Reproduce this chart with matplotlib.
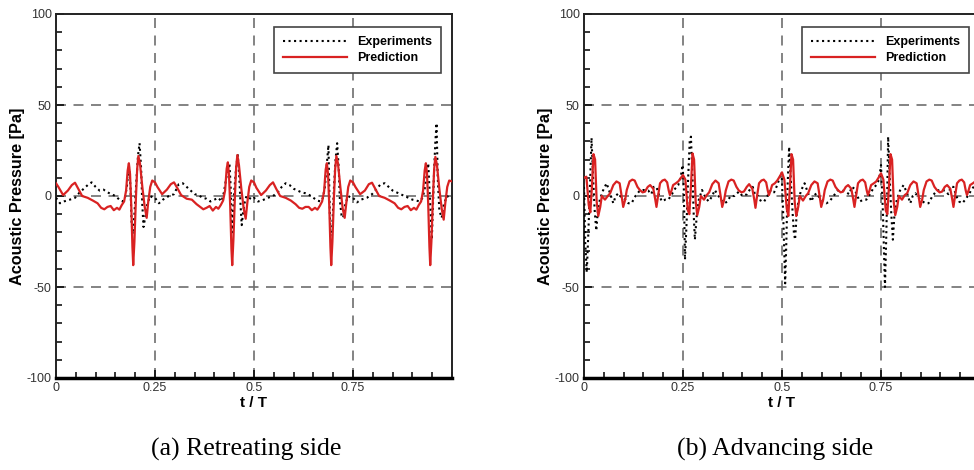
import matplotlib
matplotlib.use("Agg")
import matplotlib.pyplot as plt
from matplotlib.ticker import MultipleLocator, FixedLocator

plt.rcParams["axes.unicode_minus"] = False

RED = "#d92222"
GRIDC = "#6e6e6e"
SANS = ["Liberation Sans", "DejaVu Sans"]
SERIF = ["Liberation Serif", "DejaVu Serif"]

# ---- (a) Retreating side ----
ret_pred_t = [
    0.000, 0.006, 0.018, 0.030, 0.040, 0.048, 0.056, 0.066, 0.080, 0.093, 0.105, 0.114, 0.122,
    0.130, 0.138, 0.146, 0.154, 0.160, 0.166, 0.172, 0.177, 0.181, 0.184, 0.187, 0.190, 0.193,
    0.195, 0.198, 0.202, 0.205, 0.208, 0.212, 0.218, 0.224, 0.229, 0.233, 0.238, 0.243,
    0.250, 0.256, 0.268, 0.280, 0.290, 0.298, 0.306, 0.316, 0.330, 0.343, 0.355, 0.364, 0.372,
    0.380, 0.388, 0.396, 0.404, 0.410, 0.416, 0.422, 0.427, 0.431, 0.434, 0.437, 0.440, 0.443,
    0.445, 0.448, 0.452, 0.455, 0.458, 0.462, 0.468, 0.474, 0.479, 0.483, 0.488, 0.493,
    0.500, 0.506, 0.518, 0.530, 0.540, 0.548, 0.556, 0.566, 0.580, 0.593, 0.605, 0.614, 0.622,
    0.630, 0.638, 0.646, 0.654, 0.660, 0.666, 0.672, 0.677, 0.681, 0.684, 0.687, 0.690, 0.693,
    0.695, 0.698, 0.702, 0.705, 0.708, 0.712, 0.718, 0.724, 0.729, 0.733, 0.738, 0.743,
    0.750, 0.756, 0.768, 0.780, 0.790, 0.798, 0.806, 0.816, 0.830, 0.843, 0.855, 0.864, 0.872,
    0.880, 0.888, 0.896, 0.904, 0.910, 0.916, 0.922, 0.927, 0.931, 0.934, 0.937, 0.940, 0.943,
    0.945, 0.948, 0.952, 0.955, 0.958, 0.962, 0.968, 0.974, 0.979, 0.983, 0.988, 0.993, 1.000]
ret_pred_p = [
    7.0, 5.0, 0.5, 3.0, 6.0, 7.3, 4.0, 0.0, -1.0, -2.5, -4.0, -6.5, -7.3,
    -6.0, -5.5, -7.8, -6.5, -7.5, -5.0, -3.0, 3.0, 14.0, 18.0, 12.0, -5.0, -28.0,
    -38.0, -25.0, 0.0, 15.0, 22.0, 18.0, 5.0, -6.0, -12.0, -3.0, 5.0, 8.5,
    7.5, 5.0, 1.0, 3.5, 6.5, 7.5, 4.5, 0.5, -1.5, -2.0, -4.5, -6.0, -7.3,
    -6.5, -5.5, -8.0, -6.0, -7.0, -5.0, -2.5, 3.0, 15.0, 18.5, 11.0, -6.0, -29.0,
    -38.0, -24.0, 1.0, 16.0, 22.5, 17.0, 4.0, -7.0, -12.5, -4.0, 5.0, 8.5,
    7.5, 4.5, 0.5, 3.0, 6.0, 7.5, 4.0, 0.0, -1.0, -2.5, -4.5, -6.5, -7.0,
    -6.0, -6.0, -7.8, -6.5, -7.5, -5.5, -3.0, 2.5, 14.5, 18.0, 12.0, -5.0, -28.0,
    -38.0, -25.0, 0.0, 15.0, 22.0, 18.0, 5.0, -7.0, -12.0, -4.0, 5.0, 8.5,
    7.5, 5.0, 1.0, 3.0, 6.5, 7.3, 4.0, 0.0, -1.0, -2.5, -4.0, -6.5, -7.3,
    -6.0, -5.5, -7.8, -6.5, -7.5, -5.0, -3.0, 3.0, 14.0, 18.0, 12.0, -5.0, -28.0,
    -38.0, -25.0, 0.0, 15.0, 21.5, 17.0, 4.0, -7.0, -13.0, -4.0, 5.0, 8.5, 8.0]

ret_exp_t = [
    0.000, 0.010, 0.020, 0.035, 0.048, 0.060, 0.070, 0.080, 0.090, 0.100, 0.110, 0.120, 0.130,
    0.140, 0.150, 0.160, 0.168, 0.174, 0.179, 0.184, 0.188, 0.191, 0.194, 0.198, 0.202, 0.207,
    0.211, 0.215, 0.218, 0.221, 0.225, 0.231, 0.238, 0.245,
    0.250, 0.260, 0.270, 0.285, 0.298, 0.310, 0.320, 0.330, 0.340, 0.350, 0.360, 0.370, 0.380,
    0.390, 0.400, 0.410, 0.418, 0.424, 0.430, 0.438, 0.441, 0.444, 0.447, 0.451, 0.455, 0.459,
    0.463, 0.466, 0.469, 0.472, 0.476, 0.481, 0.488, 0.495,
    0.500, 0.510, 0.520, 0.535, 0.548, 0.560, 0.570, 0.580, 0.590, 0.600, 0.610, 0.620, 0.630,
    0.640, 0.650, 0.660, 0.668, 0.674, 0.679, 0.688, 0.690, 0.693, 0.697, 0.702, 0.706, 0.710,
    0.714, 0.717, 0.721, 0.725, 0.731, 0.738, 0.745,
    0.750, 0.760, 0.770, 0.785, 0.798, 0.810, 0.820, 0.830, 0.840, 0.850, 0.860, 0.870, 0.880,
    0.890, 0.900, 0.910, 0.918, 0.926, 0.932, 0.940, 0.944, 0.949, 0.952, 0.955, 0.958, 0.961,
    0.964, 0.968, 0.974, 0.979, 0.987, 0.995, 1.000]
ret_exp_p = [
    -1.0, -4.0, -3.0, -2.0, -1.0, 2.0, 4.0, 6.0, 7.5, 5.0, 3.0, 3.5, 2.0,
    1.0, 0.0, -2.0, -3.0, -1.0, 5.0, 17.0, 5.0, -15.0, -21.0, -10.0, 5.0, 22.0,
    29.0, 15.0, -5.0, -17.0, -12.0, -4.0, 0.0, -1.0,
    -1.0, -4.0, -2.0, 0.0, 1.0, 6.5, 7.0, 5.0, 3.0, 1.0, 0.5, -1.0, -1.5,
    -3.0, -2.0, -1.0, -3.0, 2.0, 10.0, 18.0, 5.0, -20.0, -8.0, 5.0, 16.0, 22.5,
    10.0, -5.0, -16.0, -10.0, -4.0, 0.0, -1.0, -2.0,
    -1.0, -3.0, -2.5, -1.0, 0.0, 2.0, 5.0, 7.0, 6.0, 4.0, 3.0, 2.0, 1.5,
    0.5, -1.0, -2.5, -3.0, -1.0, 5.0, 28.0, 5.0, -22.0, -20.0, 5.0, 20.0, 29.0,
    15.0, -3.0, -10.5, -12.0, -4.0, 0.0, -1.0,
    -1.0, -3.5, -2.0, -1.0, 1.0, 4.0, 6.5, 7.0, 5.0, 3.0, 2.0, 1.0, 0.0,
    -1.0, -2.0, -2.5, -3.0, -1.0, 5.0, 18.0, 0.0, -24.0, -5.0, 15.0, 30.0, 40.0,
    10.0, -8.0, -12.0, -5.0, 0.0, -1.0, -1.0]

# ---- (b) Advancing side ----
adv_pred_t = [
    0.000, 0.006, 0.012, 0.016, 0.020, 0.024, 0.028, 0.032, 0.036, 0.041, 0.045, 0.053, 0.060,
    0.066, 0.074, 0.082, 0.090, 0.095, 0.099, 0.104, 0.108, 0.115, 0.122, 0.128, 0.135, 0.141,
    0.148, 0.154, 0.161, 0.167, 0.175, 0.180, 0.183, 0.187, 0.192, 0.198, 0.204, 0.210, 0.214,
    0.217, 0.221, 0.225, 0.232, 0.238, 0.245,
    0.250, 0.256, 0.262, 0.266, 0.270, 0.274, 0.278, 0.282, 0.286, 0.291, 0.295, 0.303, 0.310,
    0.316, 0.324, 0.332, 0.340, 0.345, 0.349, 0.354, 0.358, 0.365, 0.372, 0.378, 0.385, 0.391,
    0.398, 0.404, 0.411, 0.417, 0.425, 0.430, 0.433, 0.437, 0.442, 0.448, 0.454, 0.460, 0.464,
    0.467, 0.471, 0.475, 0.482, 0.488, 0.495,
    0.500, 0.506, 0.512, 0.516, 0.520, 0.524, 0.528, 0.532, 0.536, 0.541, 0.545, 0.553, 0.560,
    0.566, 0.574, 0.582, 0.590, 0.595, 0.599, 0.604, 0.608, 0.615, 0.622, 0.628, 0.635, 0.641,
    0.648, 0.654, 0.661, 0.667, 0.675, 0.680, 0.683, 0.687, 0.692, 0.698, 0.704, 0.710, 0.714,
    0.717, 0.721, 0.725, 0.732, 0.738, 0.745,
    0.750, 0.756, 0.762, 0.766, 0.770, 0.774, 0.778, 0.782, 0.786, 0.791, 0.795, 0.803, 0.810,
    0.816, 0.824, 0.832, 0.840, 0.845, 0.849, 0.854, 0.858, 0.865, 0.872, 0.878, 0.885, 0.891,
    0.898, 0.904, 0.911, 0.917, 0.925, 0.930, 0.933, 0.937, 0.942, 0.948, 0.954, 0.960, 0.964,
    0.967, 0.971, 0.975, 0.982, 0.988, 0.995, 1.000]
adv_pred_p = [
    10.0, 10.6, -5.0, -9.0, 5.0, 23.0, 20.0, -3.0, -11.0, -6.0, 0.0, -2.0, 0.0,
    1.5, 6.0, 8.0, 7.0, 0.0, -6.0, -2.0, 3.3, 8.0, 9.0, 8.5, 5.0, 3.3,
    2.0, 2.4, 5.0, 6.0, 4.0, -2.0, -6.0, 0.0, 7.0, 8.5, 9.0, 7.5, 3.0,
    0.5, 3.0, 6.0, 7.0, 8.0, 10.0,
    11.5, 9.0, -7.7, -10.0, 5.0, 23.4, 20.0, -3.0, -10.5, -6.0, 0.0, -2.0, 0.5,
    2.0, 6.5, 8.5, 7.0, 0.0, -6.0, -2.0, 3.0, 8.0, 9.0, 8.5, 5.0, 3.0,
    2.0, 2.5, 5.0, 6.5, 4.0, -2.0, -6.5, 0.0, 7.0, 8.5, 9.0, 7.5, 3.0,
    0.5, 3.0, 6.0, 7.0, 8.5, 11.0,
    13.0, 9.0, -7.0, -11.0, 5.0, 23.0, 20.0, -3.0, -11.0, -6.0, 0.0, -2.5, 0.0,
    1.5, 6.0, 8.0, 7.0, 0.0, -6.0, -2.0, 3.3, 8.0, 9.0, 8.5, 5.0, 3.3,
    2.0, 2.4, 5.0, 6.0, 4.0, -2.0, -6.0, 0.0, 7.0, 8.5, 9.0, 7.5, 3.0,
    0.5, 3.0, 6.0, 7.0, 8.0, 10.5,
    12.5, 9.0, -8.0, -10.0, 5.0, 23.0, 20.0, -3.0, -10.5, -6.0, 0.0, -2.0, 0.5,
    1.5, 6.0, 8.0, 7.0, 0.0, -6.0, -2.0, 3.3, 8.0, 9.0, 8.5, 5.0, 3.3,
    2.0, 2.4, 5.0, 6.0, 4.0, -2.0, -6.0, 0.0, 7.0, 8.5, 9.0, 7.5, 3.0,
    0.5, 3.0, 6.0, 7.0, 8.0, 10.0, 12.0]

adv_exp_t = [
    0.000, 0.003, 0.007, 0.011, 0.015, 0.019, 0.023, 0.027, 0.031, 0.035, 0.040, 0.048, 0.057,
    0.065, 0.074, 0.080, 0.087, 0.095, 0.105, 0.112, 0.120, 0.130, 0.141, 0.150, 0.162, 0.170,
    0.176, 0.183, 0.190, 0.197, 0.205, 0.213, 0.222, 0.230, 0.238, 0.244,
    0.249, 0.252, 0.255, 0.259, 0.263, 0.267, 0.270, 0.274, 0.277, 0.280, 0.285, 0.290, 0.298,
    0.307, 0.315, 0.324, 0.330, 0.337, 0.345, 0.355, 0.362, 0.370, 0.380, 0.391, 0.400, 0.412,
    0.420, 0.426, 0.433, 0.440, 0.447, 0.455, 0.463, 0.472, 0.480, 0.488, 0.494,
    0.499, 0.503, 0.508, 0.511, 0.514, 0.518, 0.522, 0.527, 0.530, 0.533, 0.537, 0.542, 0.548,
    0.557, 0.565, 0.574, 0.580, 0.587, 0.595, 0.605, 0.612, 0.620, 0.630, 0.641, 0.650, 0.662,
    0.670, 0.676, 0.683, 0.690, 0.697, 0.705, 0.713, 0.722, 0.730, 0.738, 0.745,
    0.750, 0.755, 0.760, 0.763, 0.766, 0.768, 0.772, 0.776, 0.780, 0.784, 0.790, 0.798, 0.807,
    0.815, 0.824, 0.830, 0.837, 0.845, 0.855, 0.862, 0.870, 0.880, 0.891, 0.900, 0.912, 0.920,
    0.926, 0.933, 0.940, 0.947, 0.955, 0.963, 0.972, 0.980, 0.988, 0.994, 1.000]
adv_exp_p = [
    5.0, -25.0, -42.0, -20.0, 5.0, 32.0, 10.0, -8.0, -19.0, -8.0, -2.0, 3.0, 7.0,
    2.0, -4.0, 0.0, 1.5, -1.0, -2.0, -4.0, -4.0, 0.0, 3.0, 3.3, 3.0, 1.0,
    5.0, 5.0, 0.0, -3.0, -2.0, -2.0, 1.0, 4.0, 6.0, 10.0,
    17.0, 5.0, -35.0, -15.0, 10.0, 30.0, 32.6, 10.0, -10.0, -24.0, -10.0, -2.0, 3.3,
    -1.0, -3.0, 0.0, 3.3, 1.0, -2.0, -4.0, -3.0, 0.0, 0.0, 2.4, 0.0, 1.0,
    4.0, 5.0, 0.0, 0.0, -3.0, -3.0, 0.0, 3.3, 2.0, 6.0, 10.0,
    13.0, -10.0, -48.0, -25.0, 5.0, 27.0, 10.0, -10.0, -20.0, -24.0, -10.0, -2.0, 3.0,
    7.0, 2.0, -3.0, 0.0, 1.5, -1.0, -3.0, -4.0, -3.0, 0.0, 3.0, 3.3, 2.0,
    1.0, 5.0, 4.0, 0.0, -3.0, -2.0, -2.0, 1.0, 4.0, 6.0, 9.0,
    17.0, -10.0, -50.0, -25.0, 5.0, 32.6, 10.0, -10.0, -24.0, -10.0, -2.0, 3.0, 6.0,
    2.0, -4.0, 0.0, 1.5, -1.0, -3.0, -4.0, -4.0, 0.0, 3.0, 3.3, 3.0, 1.0,
    5.0, 5.0, 0.0, -3.0, -4.0, -2.0, 1.0, 4.0, 6.0, 10.0, 15.0]

panels = [
    (ret_exp_t, ret_exp_p, ret_pred_t, ret_pred_p, "(a) Retreating side"),
    (adv_exp_t, adv_exp_p, adv_pred_t, adv_pred_p, "(b) Advancing side"),
]
xticks = [0, 0.25, 0.5, 0.75]
xtick_labels = ["0", "0.25", "0.5", "0.75"]
yticks = [-100, -50, 0, 50, 100]

fig = plt.figure(figsize=(9.74, 4.70), dpi=100)
lefts = [56 / 974, 584 / 974]
caption_x = [246 / 974, 775 / 974]

for (et, ep, pt, pp, cap), x0, cx in zip(panels, lefts, caption_x):
    ax = fig.add_axes([x0, 92 / 470, 396 / 974, 364 / 470])
    ax.plot(et, ep, color="black", ls=":", lw=1.5, label="Experiments", zorder=3)
    ax.plot(pt, pp, color=RED, lw=1.6, label="Prediction", zorder=4)
    ax.set_xlim(0, 1)
    ax.set_ylim(-100, 100)

    ax.xaxis.set_major_locator(FixedLocator(xticks))
    ax.set_xticklabels(xtick_labels)
    ax.xaxis.set_minor_locator(MultipleLocator(0.05))
    ax.yaxis.set_major_locator(FixedLocator(yticks))
    ax.yaxis.set_minor_locator(MultipleLocator(10))
    ax.tick_params(which="both", direction="in", top=False, right=False,
                   colors="black", labelcolor="#333333", labelsize=9, width=1.1)
    ax.tick_params(which="major", length=6, pad=3)
    ax.tick_params(which="minor", length=4)
    for lab in ax.get_xticklabels() + ax.get_yticklabels():
        lab.set_family(SANS)

    for v in [0.25, 0.5, 0.75]:
        ax.axvline(v, color=GRIDC, lw=1.2, dashes=(6, 4.5), zorder=1)
    for v in [-50, 0, 50]:
        ax.axhline(v, color=GRIDC, lw=1.2, dashes=(6, 4.5), zorder=1)

    for s in ["top", "right", "left"]:
        ax.spines[s].set_linewidth(1.4)
        ax.spines[s].set_color("#222222")
    ax.spines["bottom"].set_linewidth(2.5)

    ax.set_ylabel("Acoustic Pressure [Pa]", fontsize=11.7, fontweight="bold", family=SANS)
    ax.yaxis.set_label_coords(-0.078, 0.5)
    ax.set_xlabel("t / T", fontsize=11, fontweight="bold", family=SANS)
    ax.xaxis.set_label_coords(0.5, -0.05)

    leg = ax.legend(loc="upper right", bbox_to_anchor=(0.987, 0.981), fancybox=False,
                    edgecolor="#444444", framealpha=1, handlelength=5.1, handletextpad=0.8,
                    labelspacing=0.35, borderpad=0.7,
                    prop={"family": SANS, "weight": "bold", "size": 9})
    leg.get_frame().set_linewidth(1.2)

    fig.text(cx, 0.043, cap, ha="center", va="center", fontsize=18.5, family=SERIF)

fig.savefig("out.png", dpi=100, facecolor="white")
